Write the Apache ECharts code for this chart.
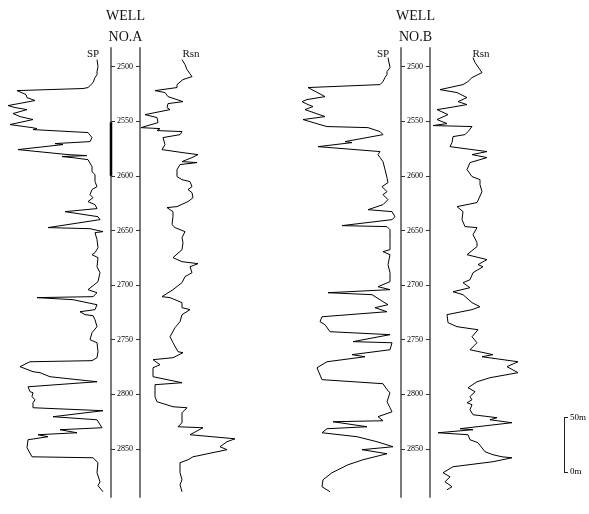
<!DOCTYPE html>
<html>
<head>
<meta charset="utf-8">
<script src="https://cdn.jsdelivr.net/npm/echarts@6/dist/echarts.min.js"></script>
<style>
  html, body { margin: 0; padding: 0; background: #fff; }
  #chart { width: 589px; height: 514px; }
</style>
</head>
<body>
<div id="chart"></div>
<script>
// depth scale (m)
const depthTicks = [2500, 2550, 2600, 2650, 2700, 2750, 2800, 2850];
const depthTop = 2483;
const depthBottom = 2894;
const wellNames = ['NO.A', 'NO.B'];
const curveNames = ['SP', 'Rsn'];
const coreIntervalA = [2551, 2600]; // dark mark on the depth track of well A
const scaleBarTicks = [0, 50];

// well A - SP (relative deflection)
const spADepth = [2493.6,2500.0,2504.6,2507.3,2510.1,2511.9,2514.7,2516.5,2519.2,2520.1,2522.0,2525.6,2528.4,2531.1,2533.0,2535.7,2537.5,2539.4,2543.0,2545.8,2548.5,2553.1,2555.9,2556.8,2557.7,2560.4,2565.0,2568.7,2570.5,2571.4,2576.0,2580.6,2581.5,2582.4,2583.3,2585.2,2591.6,2596.2,2598.9,2605.3,2609.9,2612.6,2617.2,2620.0,2623.6,2626.4,2630.0,2632.8,2637.4,2640.1,2641.9,2647.4,2648.4,2651.1,2652.0,2658.4,2665.8,2670.3,2672.2,2674.9,2683.2,2688.7,2696.9,2704.2,2707.0,2710.6,2711.5,2713.4,2718.0,2722.5,2724.4,2727.1,2728.0,2731.7,2738.1,2743.6,2750.0,2752.8,2761.0,2766.5,2769.2,2770.2,2774.7,2779.3,2780.2,2783.9,2788.5,2793.1,2797.6,2798.5,2802.2,2805.0,2807.7,2812.3,2815.0,2820.5,2823.3,2830.6,2832.4,2835.2,2837.0,2838.8,2841.6,2848.9,2857.2,2858.1,2862.6,2871.8,2880.1,2883.7,2889.2];
const spAValue = [97,98,97,97,95,96,93,92,88,83,17,26,27,35,24,8,15,27,13,20,33,10,32,37,33,88,92,90,55,63,18,68,87,62,72,88,92,92,95,95,97,92,90,93,88,95,97,65,98,100,102,48,90,103,95,97,98,95,92,98,97,100,98,88,97,93,37,73,97,95,80,85,93,95,97,92,90,97,98,97,92,30,20,33,40,50,97,28,30,33,32,35,33,33,103,53,97,102,60,77,38,48,28,27,32,93,98,97,100,98,103];

// well A - Rsn
const rsnADepth = [2493.6,2498.2,2502.7,2509.2,2511.9,2516.5,2519.2,2522.0,2523.8,2527.5,2532.1,2533.9,2537.5,2539.4,2544.0,2546.7,2551.3,2555.9,2556.8,2558.6,2559.5,2562.3,2565.0,2571.4,2576.0,2578.8,2580.6,2583.3,2587.0,2587.9,2589.7,2594.3,2600.7,2603.5,2605.3,2609.9,2612.6,2615.4,2620.0,2623.6,2628.2,2629.1,2632.8,2637.4,2644.7,2647.4,2651.1,2656.6,2661.2,2663.0,2667.6,2674.9,2678.6,2680.4,2683.2,2688.7,2692.3,2697.8,2704.2,2710.6,2711.5,2716.1,2720.7,2722.5,2727.1,2733.5,2739.0,2747.3,2752.8,2761.0,2761.9,2766.5,2768.3,2772.9,2775.7,2783.9,2789.4,2791.2,2802.2,2806.8,2811.4,2812.3,2816.9,2826.0,2829.7,2830.6,2837.0,2840.7,2843.4,2848.0,2850.7,2857.2,2859.9,2862.6,2871.8,2878.2,2882.8,2889.2];
const rsnAValue = [42,45,47,52,43,37,37,15,25,28,43,28,27,30,5,17,18,1,20,17,42,40,23,25,22,43,58,52,42,57,40,37,37,42,50,52,48,52,53,48,37,27,33,33,32,35,45,42,43,45,42,33,42,58,50,52,45,42,33,22,30,42,42,50,42,40,35,30,33,38,43,33,13,20,13,13,42,15,15,17,33,47,42,42,38,63,50,95,87,80,87,53,48,40,40,42,40,42];

// well B - SP
const spBDepth = [2491.8,2500.9,2504.6,2507.3,2510.1,2513.7,2516.5,2519.2,2527.5,2530.2,2532.1,2534.8,2536.6,2539.4,2545.8,2548.5,2553.1,2554.9,2555.9,2559.5,2562.3,2568.7,2569.6,2573.3,2577.8,2580.6,2583.3,2587.0,2594.3,2601.7,2606.2,2609.9,2614.5,2617.2,2621.8,2626.4,2631.0,2632.8,2637.4,2640.1,2645.6,2646.5,2649.3,2658.4,2667.6,2669.4,2672.2,2681.3,2688.7,2696.9,2701.5,2704.2,2707.0,2708.8,2715.2,2718.0,2720.7,2724.4,2729.0,2733.5,2736.3,2742.7,2745.4,2751.8,2752.8,2759.2,2763.7,2765.6,2770.2,2772.9,2775.7,2786.6,2790.3,2795.8,2798.5,2806.8,2812.3,2816.0,2820.5,2824.2,2825.1,2829.7,2831.5,2835.2,2838.8,2843.4,2848.0,2850.7,2854.4,2859.9,2864.5,2871.8,2878.2,2884.6,2889.2];
const spBValue = [98,100,97,97,95,93,90,18,35,17,12,18,23,15,35,13,30,37,78,90,93,55,62,28,90,88,90,93,95,97,98,92,97,93,98,93,78,102,105,102,52,97,100,100,100,93,100,98,100,100,88,100,38,82,93,98,85,97,32,30,35,40,100,63,102,100,62,75,37,32,27,32,93,97,100,97,100,102,88,93,43,77,37,32,67,87,103,72,97,73,58,42,33,32,40];

// well B - Rsn
const rsnBDepth = [2491.8,2496.3,2505.5,2510.1,2513.7,2516.5,2521.1,2523.8,2528.4,2532.1,2534.8,2537.5,2539.4,2544.0,2548.5,2552.2,2554.0,2554.9,2559.5,2562.3,2564.1,2569.6,2573.3,2577.8,2580.6,2583.3,2587.9,2594.3,2600.7,2603.5,2608.1,2614.5,2615.4,2624.5,2628.2,2632.8,2640.1,2646.5,2647.4,2653.9,2661.2,2664.8,2672.2,2676.7,2681.3,2683.2,2688.7,2695.1,2697.8,2702.4,2706.1,2708.8,2716.1,2719.8,2722.5,2727.1,2734.4,2738.1,2740.9,2747.3,2752.8,2759.2,2763.7,2765.6,2770.2,2774.7,2780.2,2784.8,2788.5,2794.0,2797.6,2802.2,2805.0,2807.7,2809.5,2814.1,2818.7,2821.4,2823.3,2826.0,2831.5,2832.4,2835.2,2837.0,2841.6,2844.3,2852.6,2855.3,2857.2,2858.1,2861.7,2866.3,2871.8,2875.5,2880.1,2884.6,2887.4];
const rsnBValue = [43,45,52,42,38,33,10,27,37,28,37,20,7,18,7,17,3,42,38,35,23,22,20,57,42,57,40,37,42,50,50,52,53,47,27,33,32,35,47,43,47,47,37,57,48,53,43,40,33,40,23,33,42,50,42,17,18,27,48,42,47,40,63,52,88,77,88,60,47,38,45,40,42,37,42,40,43,67,60,82,30,43,8,38,40,48,55,63,72,82,63,23,13,20,15,22,17];

const chart = echarts.init(document.getElementById('chart'));

const plotTop = 48;
const plotHeight = 449;
const pxPerMetre = plotHeight / (depthBottom - depthTop);
const serif = '"Liberation Serif", "Times New Roman", serif';

function pairs(depths, values) {
  return values.map((v, i) => [v, depths[i]]);
}

// each well: SP grid, depth track, Rsn grid
const wells = [
  { left: 0, track: 111, sp: pairs(spADepth, spAValue), rsn: pairs(rsnADepth, rsnAValue) },
  { left: 290, track: 401, sp: pairs(spBDepth, spBValue), rsn: pairs(rsnBDepth, rsnBValue) }
];

const grid = [], xAxis = [], yAxis = [], series = [], graphic = [];

function depthY(gridIndex) {
  return {
    gridIndex: gridIndex, type: 'value', inverse: true,
    min: depthTop, max: depthBottom, show: false,
    splitLine: { show: false }
  };
}

function label(text, x, y, size) {
  return {
    type: 'text', x: x, y: y, silent: true,
    style: {
      text: text, font: size + 'px ' + serif, fill: '#111',
      textAlign: 'center', textVerticalAlign: 'middle',
      align: 'center', verticalAlign: 'middle'
    }
  };
}

wells.forEach((w, k) => {
  const g0 = grid.length;
  grid.push({ left: w.left, top: plotTop, width: 110, height: plotHeight });
  grid.push({ left: w.track, top: plotTop, width: 29, height: plotHeight });
  grid.push({ left: w.track + 29, top: plotTop, width: 110, height: plotHeight });

  xAxis.push({ gridIndex: g0, type: 'value', min: 0, max: 110, show: false });
  xAxis.push({ gridIndex: g0 + 1, type: 'value', min: 0, max: 1, show: false });
  xAxis.push({ gridIndex: g0 + 2, type: 'value', min: 0, max: 110, show: false });

  const y0 = yAxis.length;
  yAxis.push(depthY(g0));
  // depth track: two gray lines with inward ticks, labels between
  const trackAxis = (pos, labels) => ({
    gridIndex: g0 + 1, type: 'value', inverse: true, position: pos,
    min: depthTop, max: depthBottom,
    splitLine: { show: false },
    axisLine: { show: true, lineStyle: { color: '#7a7a7a', width: 2 } },
    axisTick: { show: true, inside: true, length: 4, customValues: depthTicks,
      lineStyle: { color: '#333', width: 1 } },
    axisLabel: { show: labels, inside: true, margin: 6, customValues: depthTicks,
      formatter: v => String(v),
      fontFamily: serif, fontSize: 8, color: '#000' }
  });
  yAxis.push(trackAxis('left', true));
  yAxis.push(trackAxis('right', false));
  yAxis.push(depthY(g0 + 2));

  const curve = (name, data, xi, yi) => ({
    name: name, type: 'line', xAxisIndex: xi, yAxisIndex: yi,
    data: data, showSymbol: false, animation: false,
    lineStyle: { color: '#000', width: 1 }
  });
  series.push(curve(curveNames[0], w.sp, g0, y0));
  series.push(curve(curveNames[1], w.rsn, g0 + 2, y0 + 3));

  if (k === 0) {
    series.push({
      type: 'line', xAxisIndex: g0 + 1, yAxisIndex: y0 + 1, clip: false,
      data: [[0, coreIntervalA[0]], [0, coreIntervalA[1]]],
      showSymbol: false, animation: false, z: 5,
      lineStyle: { color: '#000', width: 2.5 }
    });
  }

  const center = w.track + 14.5;
  graphic.push(label('WELL', center, 16, 14));
  graphic.push(label(wellNames[k], center, 37, 14));
  graphic.push(label(curveNames[0], w.track - 18, 54, 11));
  graphic.push(label(curveNames[1], w.track + 80, 54, 11));
});

// scale bar 0-50 m drawn at the same vertical scale as the depth axis
const barHeight = (scaleBarTicks[1] - scaleBarTicks[0]) * pxPerMetre;
const gb = grid.length;
grid.push({ left: 564, top: 472 - barHeight, width: 10, height: barHeight });
xAxis.push({ gridIndex: gb, type: 'value', show: false });
yAxis.push({
  gridIndex: gb, type: 'value', position: 'left',
  min: scaleBarTicks[0], max: scaleBarTicks[1],
  splitLine: { show: false },
  axisLine: { show: true, lineStyle: { color: '#222', width: 1 } },
  axisTick: { show: true, inside: true, length: 4, customValues: scaleBarTicks, lineStyle: { color: '#222' } },
  axisLabel: { show: true, inside: true, margin: 6, customValues: scaleBarTicks,
    formatter: '{value}m', fontFamily: serif, fontSize: 9, color: '#000' }
});

chart.setOption({
  animation: false,
  backgroundColor: '#fff',
  graphic: graphic,
  grid: grid,
  xAxis: xAxis,
  yAxis: yAxis,
  series: series
});
</script>
</body>
</html>
